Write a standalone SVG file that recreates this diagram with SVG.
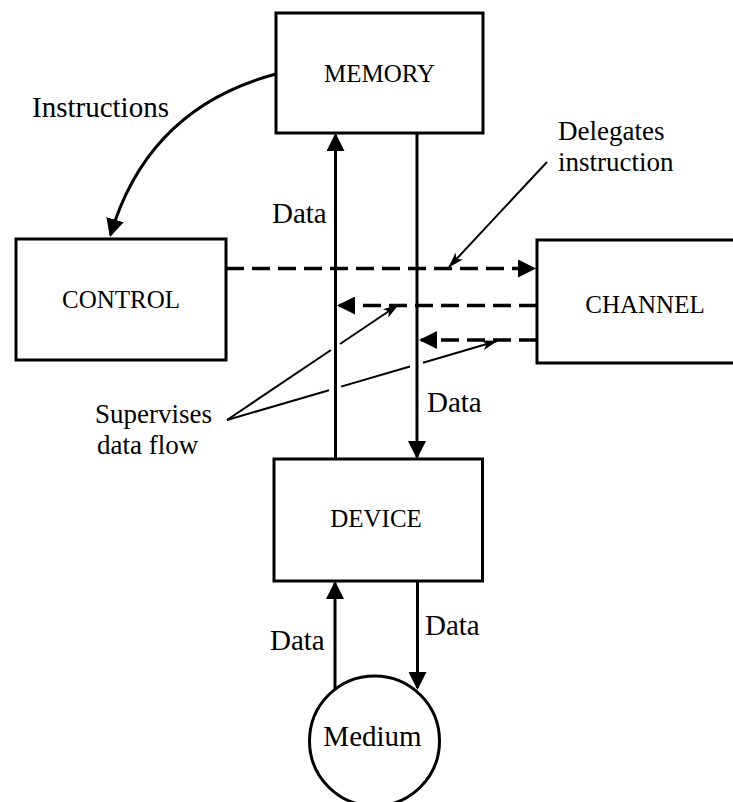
<svg xmlns="http://www.w3.org/2000/svg" width="733" height="802" viewBox="0 0 733 802">
  <style>
    .box { fill: #fff; stroke: #000; stroke-width: 3; }
    .lbl { font-family: "Liberation Serif", "Times New Roman", serif; font-size: 29px; fill: #000; }
    .note { font-family: "Liberation Serif", "Times New Roman", serif; font-size: 27px; fill: #000; }
    .name { font-family: "Liberation Serif", "Times New Roman", serif; font-size: 25px; fill: #000; text-anchor: middle; }
    .flow { fill: none; stroke: #000; stroke-width: 3; }
    .dash { fill: none; stroke: #000; stroke-width: 3.5; stroke-dasharray: 18 8; }
    .ptr { fill: none; stroke: #000; stroke-width: 2; }
  </style>
  <defs>
    <marker id="head" viewBox="0 0 18 18" refX="16" refY="9" markerWidth="18" markerHeight="18" markerUnits="userSpaceOnUse" orient="auto">
      <path d="M0,0 L18,9 L0,18 z" fill="#000"/>
    </marker>
    <marker id="tip" viewBox="0 0 16 10" refX="15" refY="5" markerWidth="16" markerHeight="10" markerUnits="userSpaceOnUse" orient="auto">
      <path d="M0,0 L16,5 L0,10 L4,5 z" fill="#000"/>
    </marker>
  </defs>

  <rect width="733" height="802" fill="#fff"/>

  <g id="connectors">
    <!-- instructions fetched from memory into control -->
    <path class="flow" d="M276,74 Q148,108 110.5,235" marker-end="url(#head)"/>
    <!-- memory <-> device data paths -->
    <path class="flow" d="M335.5,459 L335.5,135" marker-end="url(#head)"/>
    <path class="flow" d="M417,133 L417,457" marker-end="url(#head)"/>
    <!-- device <-> medium data paths -->
    <path class="flow" d="M335,689 L335,583" marker-end="url(#head)"/>
    <path class="flow" d="M417.5,581 L417.5,688" marker-end="url(#head)"/>
    <!-- control / channel signalling -->
    <path class="dash" d="M226,268.5 L534,268.5" marker-end="url(#head)"/>
    <path class="dash" d="M537,305.5 L339,305.5" marker-end="url(#head)"/>
    <path class="dash" d="M537,340 L421,340" marker-end="url(#head)"/>
    <!-- annotation pointers, broken where they pass the data paths -->
    <path class="ptr" d="M547,162 L449,267" marker-end="url(#tip)"/>
    <path class="ptr" d="M227,420 L331,350"/>
    <path class="ptr" d="M340,344 L398,305" marker-end="url(#tip)"/>
    <path class="ptr" d="M227,420 L329,390.2"/>
    <path class="ptr" d="M341,386.6 L410,366.5"/>
    <path class="ptr" d="M423,362.7 L497,341" marker-end="url(#tip)"/>
  </g>

  <g id="memory">
    <rect class="box" x="276" y="13" width="207" height="120"/>
    <text class="name" x="379.5" y="82">MEMORY</text>
  </g>

  <g id="control">
    <rect class="box" x="16" y="239" width="210" height="121"/>
    <text class="name" x="121" y="308">CONTROL</text>
  </g>

  <g id="channel">
    <rect class="box" x="537" y="240" width="210" height="123"/>
    <text class="name" x="645" y="313">CHANNEL</text>
  </g>

  <g id="device">
    <rect class="box" x="274" y="459" width="208.5" height="122"/>
    <text class="name" x="376" y="527">DEVICE</text>
  </g>

  <g id="medium">
    <circle class="box" cx="374.5" cy="741" r="65"/>
    <text class="lbl" x="372.5" y="746" text-anchor="middle">Medium</text>
  </g>

  <g id="labels">
    <text class="lbl" x="32" y="117">Instructions</text>
    <text class="lbl" x="272" y="223">Data</text>
    <text class="lbl" x="427" y="412">Data</text>
    <text class="lbl" x="270" y="650">Data</text>
    <text class="lbl" x="425" y="635">Data</text>
    <text class="note" x="558" y="140">Delegates</text>
    <text class="note" x="558" y="171">instruction</text>
    <text class="note" x="95" y="423">Supervises</text>
    <text class="note" x="97" y="454">data flow</text>
  </g>
</svg>
